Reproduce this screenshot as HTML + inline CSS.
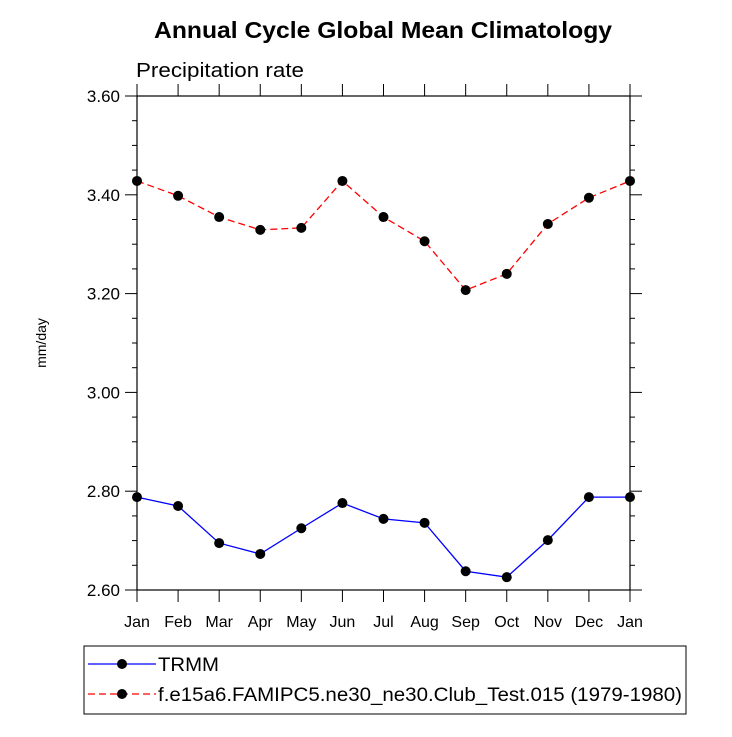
<!DOCTYPE html>
<html><head><meta charset="utf-8"><style>
html,body{margin:0;padding:0;background:#fff;}
svg text{font-family:"Liberation Sans",Arial,sans-serif;}
</style></head><body>
<svg id="chart" width="732" height="732" xmlns="http://www.w3.org/2000/svg">
<text x="154" y="38" font-size="23" font-weight="bold" textLength="458" lengthAdjust="spacingAndGlyphs">Annual Cycle Global Mean Climatology</text>
<text x="136" y="77" font-size="20" textLength="168" lengthAdjust="spacingAndGlyphs">Precipitation rate</text>
<text transform="translate(46,343) rotate(-90)" text-anchor="middle" font-size="14">mm/day</text>
<g id="axes"></g>
<g id="series"></g>
<rect x="84" y="646" width="602" height="68" fill="none" stroke="#000" stroke-width="1"/>
<g>
<line x1="88" y1="664" x2="156" y2="664" stroke="#00f" stroke-width="1.3"/>
<circle cx="122" cy="664" r="5" fill="#000"/>
<text x="158" y="671" font-size="19" textLength="61" lengthAdjust="spacingAndGlyphs">TRMM</text>
</g>
<g>
<line x1="88" y1="694" x2="156" y2="694" stroke="#f00" stroke-width="1.3" stroke-dasharray="7,4"/>
<circle cx="122" cy="694" r="5" fill="#000"/>
<text x="158" y="701" font-size="19" textLength="524" lengthAdjust="spacingAndGlyphs">f.e15a6.FAMIPC5.ne30_ne30.Club_Test.015 (1979-1980)</text>
</g>
</svg>
<script>
const months = ["Jan","Feb","Mar","Apr","May","Jun","Jul","Aug","Sep","Oct","Nov","Dec","Jan"];
const trmm = [2.788,2.770,2.695,2.673,2.725,2.776,2.744,2.736,2.638,2.626,2.701,2.788,2.788];
const model = [3.428,3.398,3.355,3.329,3.333,3.428,3.355,3.306,3.207,3.240,3.341,3.394,3.428];
const yTicks = [2.6,2.8,3.0,3.2,3.4,3.6];
const yTickLabels = ["2.60","2.80","3.00","3.20","3.40","3.60"];
const X0=137,X1=630,Y0=96,Y1=590,YMIN=2.6,YMAX=3.6;
const NS="http://www.w3.org/2000/svg";
function xs(i){return X0+(X1-X0)*i/(months.length-1);}
function ys(v){return Y1-(v-YMIN)/(YMAX-YMIN)*(Y1-Y0);}
function mk(t,a,p){const e=document.createElementNS(NS,t);for(const k in a)e.setAttribute(k,a[k]);p.appendChild(e);return e;}
const ax=document.getElementById('axes');
const frame=mk('rect',{x:X0,y:Y0,width:X1-X0,height:Y1-Y0,fill:'none',stroke:'#000','stroke-width':1.2},ax);


for(let v=YMIN;v<=YMAX+1e-9;v+=0.05){
  const y=ys(v);const major=Math.abs(Math.round(v*5)-v*5)<1e-6;const L=major?12:5;
  mk('line',{x1:X0-L,y1:y,x2:X0,y2:y,stroke:'#000','stroke-width':1},ax);
  mk('line',{x1:X1,y1:y,x2:X1+L,y2:y,stroke:'#000','stroke-width':1},ax);
}
yTicks.forEach((v,i)=>{
  const t=mk('text',{x:X0-17,y:ys(v)+6,'text-anchor':'end','font-size':17},ax);
  t.textContent=yTickLabels[i];
  
  
});
months.forEach((m,i)=>{
  const x=xs(i);
  mk('line',{x1:x,y1:Y1,x2:x,y2:Y1+12,stroke:'#000','stroke-width':1},ax);
  mk('line',{x1:x,y1:Y0-12,x2:x,y2:Y0,stroke:'#000','stroke-width':1},ax);
  const t=mk('text',{x:x,y:627,'text-anchor':'middle','font-size':16},ax);
  t.textContent=m;
  
  
});
const sg=document.getElementById('series');
function draw(vals,color,dash,name){
  const g=mk('g',{},sg);
  
  
  const pts=vals.map((v,i)=>xs(i)+','+ys(v)).join(' ');
  const a={points:pts,fill:'none',stroke:color,'stroke-width':1.3};
  if(dash)a['stroke-dasharray']=dash;
  mk('polyline',a,g);
  vals.forEach((v,i)=>{
    const c=mk('circle',{cx:xs(i),cy:ys(v),r:5,fill:'#000'},g);
    
    
  });
}
draw(trmm,'#00f',null,'trmm-series');
draw(model,'#f00','7,4','model-series');
</script>
</body></html>
